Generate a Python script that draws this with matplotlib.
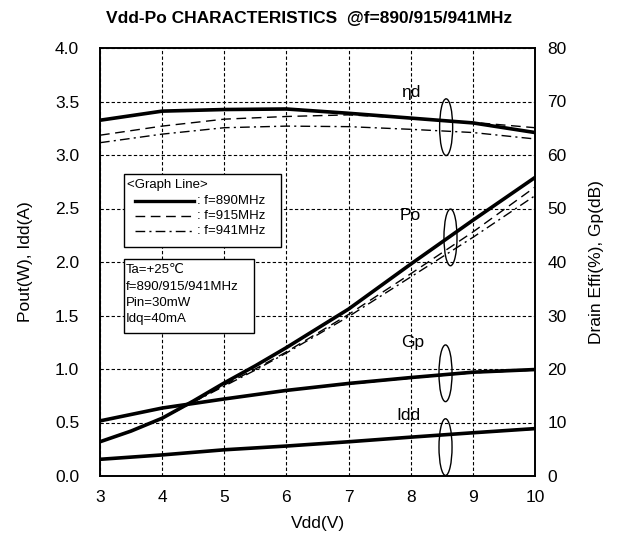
import numpy as np
import matplotlib
matplotlib.use("Agg")
import matplotlib.pyplot as plt
from matplotlib.patches import Ellipse, Rectangle
from matplotlib.lines import Line2D

plt.rcParams['font.family'] = ['Liberation Sans', 'DejaVu Sans']

vdd = [3, 4, 5, 6, 7, 8, 9, 10]
vdd_po = [3, 3.5, 4, 4.5, 5, 5.5, 6, 7, 8, 9, 10]

# drain efficiency (%) - right axis
eff_890 = [66.5, 68.2, 68.5, 68.6, 67.8, 66.9, 66.0, 64.2]
eff_915 = [63.7, 65.4, 66.7, 67.2, 67.5, 66.9, 66.1, 65.1]
eff_941 = [62.3, 63.9, 65.1, 65.4, 65.3, 64.8, 64.2, 63.0]

# output power (W) - left axis
po_890 = [0.32, 0.42, 0.54, 0.70, 0.87, 1.03, 1.20, 1.56, 1.98, 2.39, 2.79]
po_915 = [0.32, 0.42, 0.54, 0.69, 0.85, 1.00, 1.16, 1.51, 1.89, 2.28, 2.70]
po_941 = [0.32, 0.42, 0.54, 0.69, 0.84, 0.99, 1.15, 1.49, 1.86, 2.23, 2.62]

# power gain (dB) - right axis
gp_890 = [10.3, 12.7, 14.4, 16.0, 17.3, 18.4, 19.4, 19.9]
gp_915 = [10.3, 12.7, 14.4, 16.0, 17.2, 18.3, 19.3, 19.8]
gp_941 = [10.3, 12.7, 14.4, 16.0, 17.2, 18.3, 19.3, 19.8]

# drain current (A) - left axis
idd_890 = [0.156, 0.197, 0.245, 0.280, 0.320, 0.363, 0.404, 0.443]
idd_915 = [0.156, 0.197, 0.244, 0.279, 0.319, 0.362, 0.402, 0.440]
idd_941 = [0.156, 0.197, 0.244, 0.279, 0.319, 0.361, 0.401, 0.438]

dash = (0, (7, 4))
dashdot = (0, (7, 3, 1.5, 3))

fig = plt.figure(figsize=(6.19, 5.41), dpi=100)
ax = fig.add_axes([100/619, 65/541, 435/619, 428/541])
ax2 = ax.twinx()

ax.set_xlim(3, 10)
ax.set_ylim(0, 4.0)
ax2.set_ylim(0, 80)
ax.set_xticks(range(3, 11))
ax.set_yticks(np.arange(0, 4.01, 0.5))
ax.set_yticklabels([f"{v:.1f}" for v in np.arange(0, 4.01, 0.5)])
ax2.set_yticks(range(0, 81, 10))

ax.grid(True, color='black', linestyle=(0, (3, 2)), linewidth=0.8)
ax.set_axisbelow(True)
for a in (ax, ax2):
    a.tick_params(direction='in', length=0, labelsize=12.5)
    for s in a.spines.values():
        s.set_linewidth(1.2)
ax.tick_params(axis='x', pad=10)
ax.tick_params(axis='y', pad=15)
ax2.tick_params(axis='y', pad=9)

# right-axis curves
ax2.plot(vdd, eff_915, color='black', lw=1.0, ls=dash)
ax2.plot(vdd, eff_941, color='black', lw=1.0, ls=dashdot)
ax2.plot(vdd, eff_890, color='black', lw=2.6)
ax2.plot(vdd, gp_915, color='black', lw=1.0, ls=dash)
ax2.plot(vdd, gp_941, color='black', lw=1.0, ls=dashdot)
ax2.plot(vdd, gp_890, color='black', lw=2.6)

# left-axis curves
ax.plot(vdd_po, po_915, color='black', lw=1.0, ls=dash)
ax.plot(vdd_po, po_941, color='black', lw=1.0, ls=dashdot)
ax.plot(vdd_po, po_890, color='black', lw=2.6)
ax.plot(vdd, idd_915, color='black', lw=1.0, ls=dash)
ax.plot(vdd, idd_941, color='black', lw=1.0, ls=dashdot)
ax.plot(vdd, idd_890, color='black', lw=2.6)

# ellipses + curve names
for (xc, yc, name, tx, ty) in [(8.57, 3.26, 'ηd', 8.0, 3.58),
                                (8.64, 2.23, 'Po', 8.0, 2.43),
                                (8.56, 0.96, 'Gp', 8.03, 1.25),
                                (8.56, 0.27, 'Idd', 7.97, 0.57)]:
    ax2.add_patch(Ellipse((xc, yc * 20), 0.21, 0.53 * 20, fill=False, ec='black', lw=1.0, zorder=5))
    ax2.text(tx, ty * 20, name, fontsize=12.5, ha='center', va='center', zorder=6)

ax.set_xlabel('Vdd(V)', fontsize=12.5, labelpad=8)
ax.set_ylabel('Pout(W), Idd(A)', fontsize=12.5, labelpad=16)
ax2.set_ylabel('Drain Effi(%), Gp(dB)', fontsize=12.5, labelpad=16)

fig.text(0.5, 0.966, 'Vdd-Po CHARACTERISTICS  @f=890/915/941MHz',
         ha='center', va='center', fontsize=12.5, fontweight='bold')


def px(x, y):
    return ((x - 100) / 435, (476 - y) / 428)


tr = ax2.transAxes
b1 = px(124, 247)
ax2.add_patch(Rectangle(b1, 157/435, 73/428, transform=tr, fc='white', ec='black', lw=1.0, zorder=10))
b2 = px(124, 333)
ax2.add_patch(Rectangle(b2, 130/435, 74/428, transform=tr, fc='white', ec='black', lw=1.0, zorder=10))

ax2.text(*px(127, 185), '<Graph Line>', transform=tr, fontsize=9.5, va='center', zorder=11)
for yy, ls, lw, lab in [(201, '-', 2.4, ': f=890MHz'),
                        (216, dash, 1.0, ': f=915MHz'),
                        (231, dashdot, 1.0, ': f=941MHz')]:
    x0, y0 = px(135, yy)
    x1, _ = px(194, yy)
    ax2.add_line(Line2D([x0, x1], [y0, y0], transform=tr, color='black', lw=lw, ls=ls, zorder=11))
    ax2.text(*px(197, yy), lab, transform=tr, fontsize=9.5, va='center', zorder=11)

for yy, lab in [(270, 'Ta=+25℃'), (287, 'f=890/915/941MHz'),
                (303, 'Pin=30mW'), (319, 'Idq=40mA')]:
    ax2.text(*px(126, yy), lab, transform=tr, fontsize=9.5, va='center', zorder=11)

fig.savefig('out.png', dpi=100)
